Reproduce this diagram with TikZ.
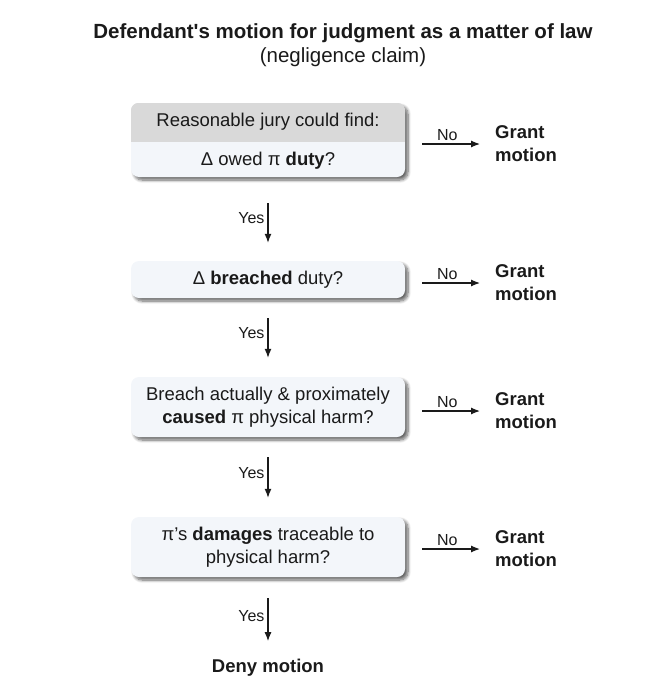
\documentclass[tikz,border=0pt]{standalone}
\usepackage{fontspec}
\setmainfont{Liberation Sans}
\newfontfamily\titlefont{Liberation Sans}
\usetikzlibrary{arrows.meta,shadows.blur,calc}
\definecolor{boxlight}{HTML}{F3F6FA}
\definecolor{boxgray}{HTML}{D9D9D9}
\definecolor{ink}{HTML}{1A1A1A}
\newcommand{\qfont}{\fontsize{18.5}{23}\selectfont}
\newcommand{\smfont}{\fontsize{16}{19}\selectfont}
\tikzset{
  qbox/.style={fill=boxlight, rounded corners=8pt, minimum width=274pt, inner sep=0pt,
    align=center, font=\qfont, text=ink,
    blur shadow={shadow xshift=3pt, shadow yshift=-3pt, shadow blur steps=8, shadow blur radius=3pt, shadow opacity=60}},
  grant/.style={anchor=west, inner sep=0pt, align=left, font=\qfont\bfseries, text=ink},
  arr/.style={-{Latex[length=9pt,width=7pt]}, line width=1.2pt, draw=ink},
  lbl/.style={font=\smfont, text=ink, inner sep=3pt},
}
\begin{document}
\begin{tikzpicture}[x=1pt,y=-1pt]
\useasboundingbox (0,0) rectangle (650,685);
% title
\node[font=\titlefont\fontsize{20.5}{24}\selectfont\bfseries, text=ink] (title) at (343,33) {Defendant's motion for judgment as a matter of law};
\node[font=\fontsize{20.5}{24}\selectfont, text=ink] (sub) at (343,57) {(negligence claim)};
% boxes
\node[qbox, minimum height=74pt] (box1) at (268,140) {};
\begin{scope}
  \clip[rounded corners=8pt] (box1.north west) rectangle (box1.south east);
  \fill[boxgray] (box1.north west) rectangle ($(box1.north east)+(0,39)$);
\end{scope}
\node[font=\qfont, text=ink] (t1a) at (268,122) {Reasonable jury could find:};
\node[font=\qfont, text=ink] (t1b) at (268,161) {Δ owed π \textbf{duty}?};
\node[qbox, minimum height=37pt] (box2) at (268,279.5) {Δ \textbf{breached} duty?};
\node[qbox, minimum height=60pt] (box3) at (268,407) {Breach actually \& proximately\\\textbf{caused} π physical harm?};
\node[qbox, minimum height=60pt] (box4) at (268,547) {π’s \textbf{damages} traceable to\\physical harm?};
\node[font=\qfont\bfseries, text=ink, inner sep=0pt] (deny) at (268,668) {Deny motion};
% grant nodes
\node[grant] (g1) at (495,144) {Grant\\motion};
\node[grant] (g2) at (495,283) {Grant\\motion};
\node[grant] (g3) at (495,411) {Grant\\motion};
\node[grant] (g4) at (495,549) {Grant\\motion};
% vertical arrows
\draw[arr, shorten <=26pt, shorten >=18pt] (box1.south) -- node[lbl, left, pos=0.49] {Yes} (box2.north);
\draw[arr, shorten <=20pt, shorten >=19pt] (box2.south) -- node[lbl, left, pos=0.44] {Yes} (box3.north);
\draw[arr, shorten <=20pt, shorten >=19pt] (box3.south) -- node[lbl, left, pos=0.45] {Yes} (box4.north);
\draw[arr, shorten <=21pt, shorten >=18pt] (box4.south) -- node[lbl, left, pos=0.47] {Yes} (deny.north);
% horizontal arrows
\draw[arr, shorten <=17pt, shorten >=15pt] (box1.east |- g1.west) -- node[lbl, above, pos=0.47] {No} (g1.west);
\draw[arr, shorten <=17pt, shorten >=15pt] (box2.east |- g2.west) -- node[lbl, above, pos=0.47] {No} (g2.west);
\draw[arr, shorten <=17pt, shorten >=15pt] (box3.east |- g3.west) -- node[lbl, above, pos=0.47] {No} (g3.west);
\draw[arr, shorten <=17pt, shorten >=15pt] (box4.east |- g4.west) -- node[lbl, above, pos=0.47] {No} (g4.west);
\end{tikzpicture}
\end{document}
